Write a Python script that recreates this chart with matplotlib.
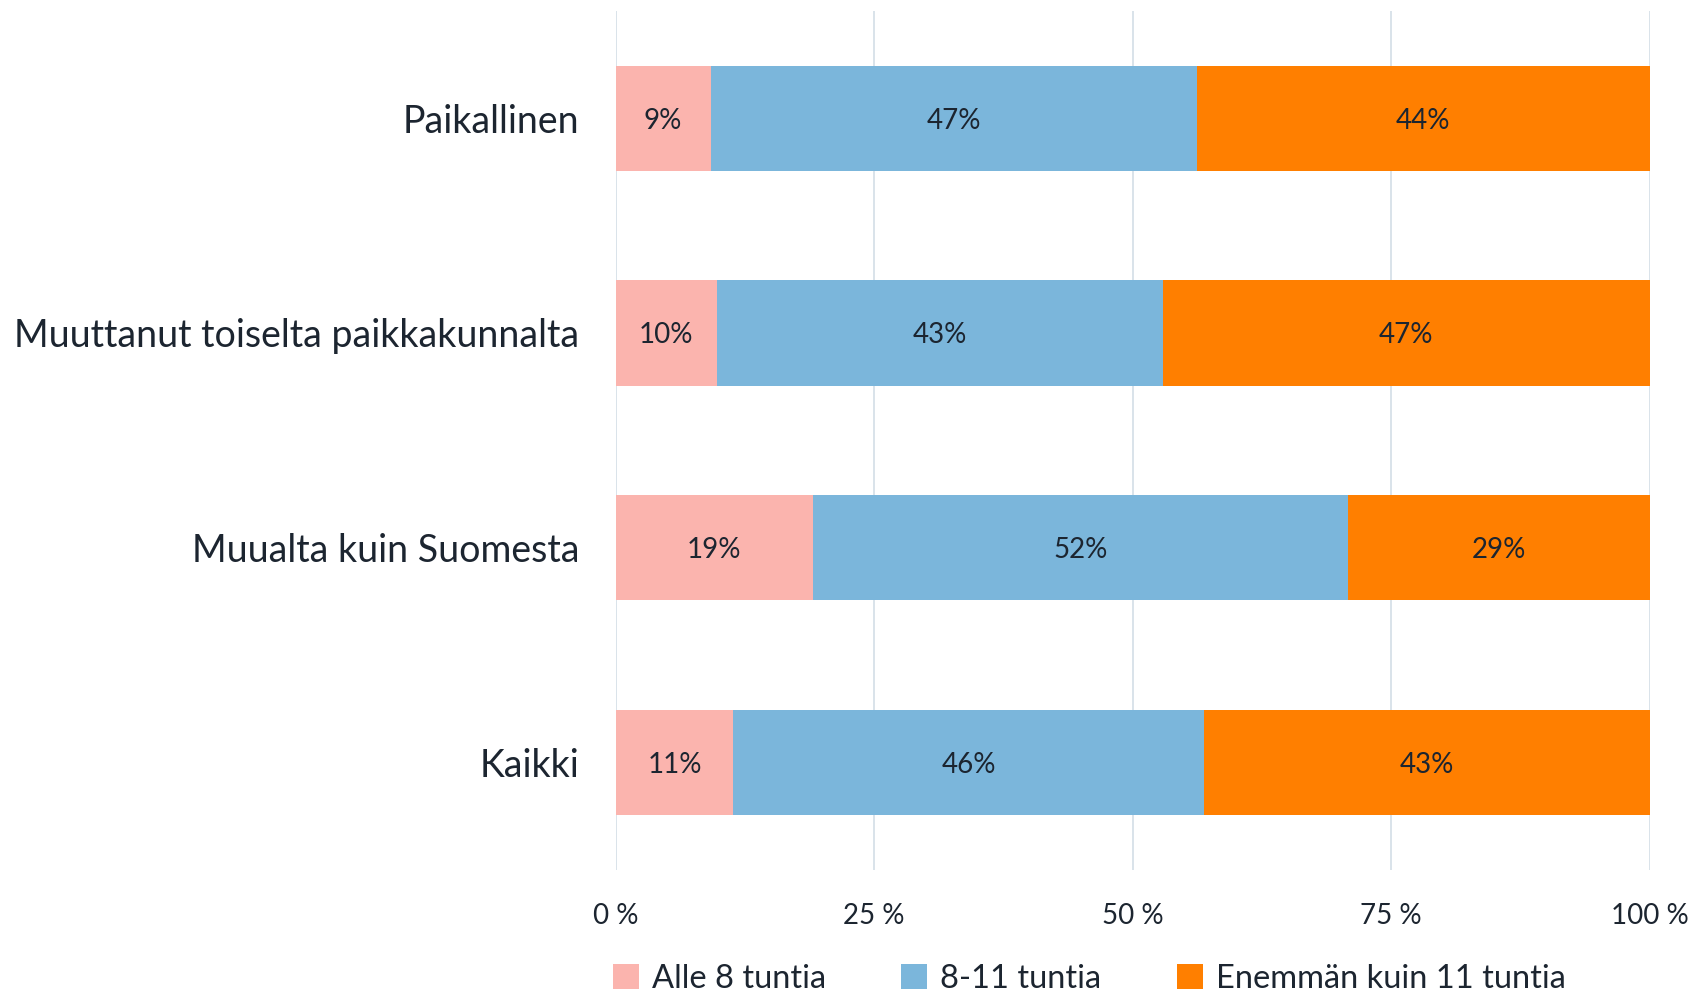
import matplotlib as mpl
mpl.use('Agg')
import matplotlib.pyplot as plt
import numpy as np

plt.rcParams['font.family'] = ['Lato', 'DejaVu Sans']

categories = ['Paikallinen', 'Muuttanut toiselta paikkakunnalta', 'Muualta kuin Suomesta', 'Kaikki']
series = ['Alle 8 tuntia', '8-11 tuntia', 'Enemmän kuin 11 tuntia']
alle8 = [9.2, 9.8, 19.1, 11.4]
v8_11 = [47.0, 43.1, 51.7, 45.5]
yli11 = [43.8, 47.1, 29.2, 43.1]
colors = ['#fbb4ae', '#7bb6db', '#ff7f00']
txt = '#1c2530'

fig = plt.figure(figsize=(16.99, 9.94), dpi=100)
ax = fig.add_axes([0.3623, 0.125, 0.6087, 0.864])

y = np.arange(len(categories))
left = np.zeros(len(categories))
for vals, name, col in zip([alle8, v8_11, yli11], series, colors):
    vals = np.array(vals)
    ax.barh(y, vals, left=left, height=0.49, color=col, label=name, zorder=2)
    for yi, l, v in zip(y, left, vals):
        ax.text(l + v / 2, yi, f'{round(v):.0f}%', ha='center', va='center_baseline',
                fontsize=20, color=txt, zorder=3)
    left += vals

ax.set_ylim(3.5, -0.5)
ax.set_xlim(0, 100)
ax.set_yticks(y)
ax.set_yticklabels(categories, fontsize=27, color=txt)
ax.set_xticks([0, 25, 50, 75, 100])
ax.set_xticklabels(['0 %', '25 %', '50 %', '75 %', '100 %'], fontsize=20, color=txt)
ax.tick_params(length=0)
ax.tick_params(axis='y', pad=26)
ax.tick_params(axis='x', pad=24)
ax.grid(axis='x', color='#d7e0e8', linewidth=1.3, zorder=0)
for s in ax.spines.values():
    s.set_visible(False)

leg = ax.legend(loc='upper center', bbox_to_anchor=(0.458, -0.075), ncol=3, frameon=False,
                fontsize=23.5, handlelength=0.8, handleheight=0.8, handletextpad=0.4,
                columnspacing=2.3, labelcolor=txt)

fig.savefig('out.png', dpi=100, facecolor='white')
